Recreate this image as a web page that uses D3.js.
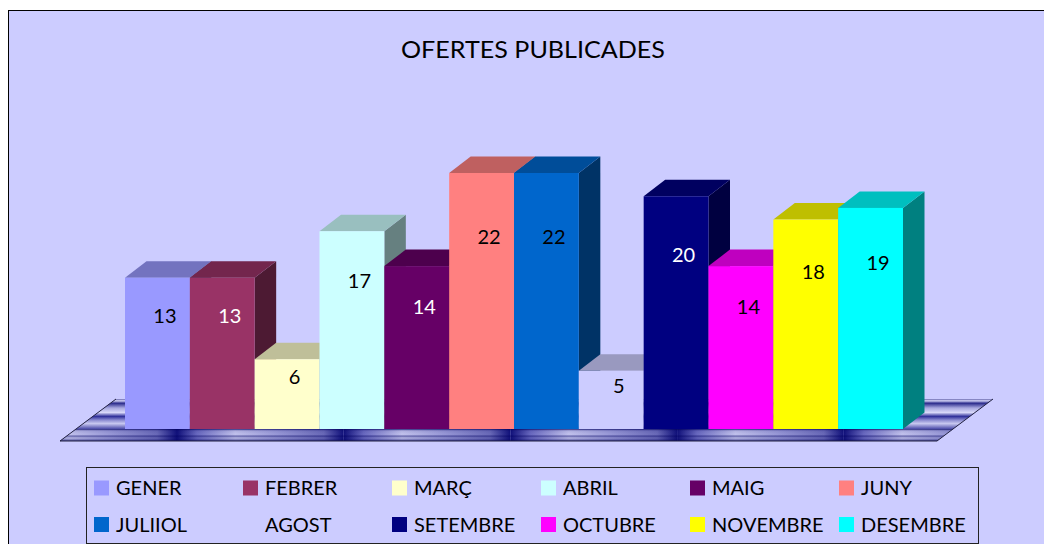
<!DOCTYPE html>
<html><head><meta charset="utf-8">
<script src="https://cdn.jsdelivr.net/npm/d3@7"></script>
<style>html,body{margin:0;padding:0;background:#fff;}svg{display:block;}</style>
</head><body>
<svg id="chart" width="1044" height="544"></svg>
<script>
const months = ["GENER","FEBRER","MARÇ","ABRIL","MAIG","JUNY","JULIIOL","AGOST","SETEMBRE","OCTUBRE","NOVEMBRE","DESEMBRE"];
const values = [13,13,6,17,14,22,22,5,20,14,18,19];
const colors = ["#9999FF","#993366","#FFFFCC","#CCFFFF","#660066","#FF8080","#0066CC","#CCCCFF","#000080","#FF00FF","#FFFF00","#00FFFF"];
const whiteLabel = ["FEBRER","MAIG","SETEMBRE"];
const title = "OFERTES PUBLICADES";

const svg = d3.select("#chart");
const FONT = "Lato, 'Open Sans', sans-serif";
const defs = svg.append("defs");

// background + border
svg.append("rect").attr("x",8.5).attr("y",10.5).attr("width",1100).attr("height",600)
  .attr("fill","#CCCCFF").attr("stroke","#000").attr("stroke-width",1);

svg.append("text").attr("x",533).attr("y",58).attr("text-anchor","middle")
  .attr("font-family",FONT).attr("font-size",24).attr("fill","#000")
  .attr("textLength",264).attr("lengthAdjust","spacingAndGlyphs").text(title);

const x = d3.scaleBand().domain(months).range([125,903]).padding(0);
const y = d3.scaleLinear().domain([0,22]).range([429,173]);
const DX = 21.5, DY = 16.5;

// floor
const floorTop = 399, floorMid = 429, floorBot = 441;
const fl = 60, fr = 937, slope = 56/42;
const gTop = defs.append("linearGradient").attr("id","floorTop").attr("x1",0).attr("y1",0).attr("x2",0).attr("y2",1);
[[0,"#6a6ab0"],[0.06,"#d0d0f4"],[0.14,"#2a2a8c"],[0.3,"#a8a8e0"],[0.45,"#d8d8f8"],[0.58,"#30309a"],[0.7,"#8a8ad0"],[0.82,"#c8c8f0"],[1,"#4a4aa8"]]
  .forEach(s=>gTop.append("stop").attr("offset",s[0]).attr("stop-color",s[1]));
svg.append("path").attr("d",
  `M${fl+(floorBot-floorMid)*slope},${floorMid} L${fl+(floorBot-floorTop)*slope},${floorTop} L${fr+(floorBot-floorTop)*slope},${floorTop} L${fr+(floorBot-floorMid)*slope},${floorMid} Z`)
  .attr("fill","url(#floorTop)");
const gFront = defs.append("linearGradient").attr("id","floorFront").attr("x1",0).attr("y1",0).attr("x2",1).attr("y2",0);
[[0,"#10107a"],[0.12,"#6a6ac0"],[0.35,"#c4c4ee"],[0.6,"#9a9ad8"],[0.88,"#6a6ab8"],[1,"#10107a"]]
  .forEach(s=>gFront.append("stop").attr("offset",s[0]).attr("stop-color",s[1]));
const gFrontV = defs.append("linearGradient").attr("id","floorFrontV").attr("x1",0).attr("y1",0).attr("x2",0).attr("y2",1);
[[0,"#000060",0.8],[0.15,"#000060",0.1],[0.45,"#000060",0.0],[0.6,"#000060",0.45],[0.75,"#000060",0.05],[1,"#000060",0.6]]
  .forEach(s=>gFrontV.append("stop").attr("offset",s[0]).attr("stop-color",s[1]).attr("stop-opacity",s[2]));
const clip = defs.append("clipPath").attr("id","frontClip");
clip.append("path").attr("d",
  `M${fl},${floorBot} L${fl+(floorBot-floorMid)*slope},${floorMid} L${fr+(floorBot-floorMid)*slope},${floorMid} L${fr},${floorBot} Z`);
const fg = svg.append("g").attr("clip-path","url(#frontClip)");
const seg = 166.7;
for (let sx = 177-seg; sx < 960; sx += seg) {
  fg.append("rect").attr("x",sx).attr("y",floorMid).attr("width",seg).attr("height",floorBot-floorMid).attr("fill","url(#floorFront)");
}
fg.append("rect").attr("x",fl).attr("y",floorMid).attr("width",fr-fl+20).attr("height",floorBot-floorMid).attr("fill","url(#floorFrontV)");
svg.append("path").attr("d",
  `M${fl},${floorBot} L${fl+(floorBot-floorTop)*slope},${floorTop} M${fr},${floorBot} L${fr+(floorBot-floorTop)*slope},${floorTop} M${fl},${floorBot} L${fr},${floorBot}`)
  .attr("stroke","#202040").attr("stroke-width",1).attr("fill","none");

// bars
const data = months.map((m,i)=>({m, v:values[i], c:colors[i]}));
const shade = (c,f)=>{const r=d3.rgb(c); return d3.rgb(r.r*f,r.g*f,r.b*f).formatHex();};
const bars = svg.append("g").selectAll("g").data(data).join("g");
bars.each(function(d){
  const g = d3.select(this);
  const x0 = x(d.m), x1 = x0 + x.bandwidth(), yt = y(d.v), yb = y(0);
  g.append("path").attr("d",`M${x1},${yb} L${x1+DX},${yb-DY} L${x1+DX},${yt-DY} L${x1},${yt} Z`).attr("fill",shade(d.c,0.5));
  g.append("path").attr("d",`M${x0},${yt} L${x0+DX},${yt-DY} L${x1+DX},${yt-DY} L${x1},${yt} Z`).attr("fill",shade(d.c,0.75));
  g.append("rect").attr("x",x0).attr("y",yt).attr("width",x.bandwidth()).attr("height",yb-yt).attr("fill",d.c);
});
bars.append("text")
  .attr("x",d=>x(d.m)+x.bandwidth()/2+7.5)
  .attr("y",d=>y(d.v*0.75))
  .attr("dy","0.36em").attr("text-anchor","middle")
  .attr("font-family",FONT).attr("font-size",20)
  .attr("fill",d=>whiteLabel.includes(d.m)?"#fff":"#000")
  .text(d=>d.v);

// legend
svg.append("rect").attr("x",86.5).attr("y",467.5).attr("width",892).attr("height",76)
  .attr("fill","none").attr("stroke","#222").attr("stroke-width",1);
const leg = svg.append("g").selectAll("g").data(data).join("g")
  .attr("transform",(d,i)=>`translate(${94+(i%6)*149},${i<6?488:524.5})`);
leg.append("rect").attr("x",0).attr("y",-7.5).attr("width",15).attr("height",15).attr("fill",d=>d.c);
leg.append("text").attr("x",22).attr("dy","0.36em").attr("font-family",FONT).attr("font-size",20)
  .attr("fill","#000").text(d=>d.m);
</script>
</body></html>
